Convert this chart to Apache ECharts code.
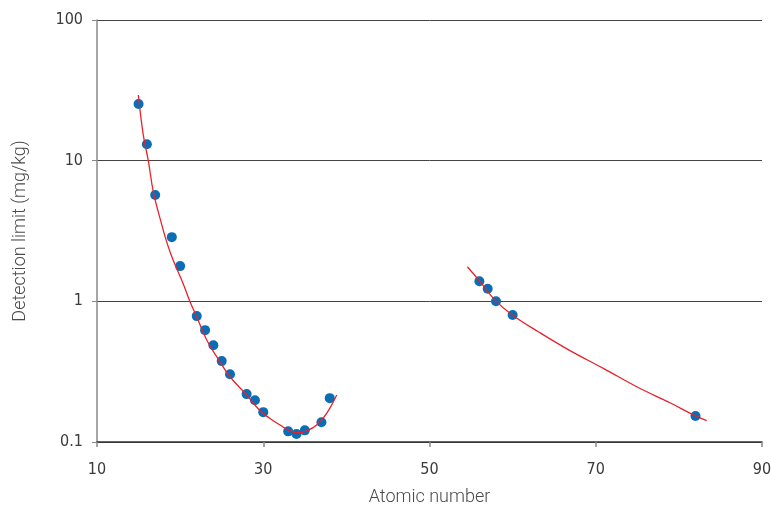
<!DOCTYPE html>
<html>
<head>
<meta charset="utf-8">
<script src="https://cdn.jsdelivr.net/npm/echarts@6/dist/echarts.min.js"></script>
<style>html,body{margin:0;padding:0;background:#fff}#c{width:771px;height:509px}</style>
</head>
<body>
<div id="c"></div>
<script>
// Measured points (atomic number, detection limit mg/kg)
const lightZ = [15, 16, 17, 19, 20, 22, 23, 24, 25, 26, 28, 29, 30, 33, 34, 35, 37, 38];
const lightDL = [25.3, 13.1, 5.7, 2.86, 1.78, 0.785, 0.624, 0.488, 0.376, 0.303, 0.219, 0.198, 0.163, 0.119, 0.114, 0.121, 0.138, 0.205];
const heavyZ = [56, 57, 58, 60, 82];
const heavyDL = [1.39, 1.23, 1.0, 0.80, 0.153];

// Fitted curves
const fitLeftZ = [14.97, 15.57, 16.17, 16.77, 17.58, 18.78, 20.38, 21.19, 21.99, 23.2, 24.4, 26.0, 28.01, 29.61, 30.81, 32.02, 33.22, 34.22, 35.23, 36.43, 37.63, 38.84];
const fitLeftDL = [29.3, 15.2, 10.0, 6.02, 3.89, 2.25, 1.33, 0.994, 0.778, 0.531, 0.404, 0.291, 0.216, 0.167, 0.147, 0.132, 0.120, 0.1165, 0.120, 0.132, 0.160, 0.216];
const fitRightZ = [54.55, 56.08, 57.88, 59.96, 63.09, 66.9, 70.91, 74.93, 78.93, 81.94, 83.35];
const fitRightDL = [1.76, 1.38, 1.02, 0.80, 0.608, 0.446, 0.334, 0.247, 0.190, 0.154, 0.142];

const xTicks = [10, 30, 50, 70, 90];
const yTicks = [0.1, 1, 10, 100];

const zip = (a, b) => a.map((v, i) => [v, b[i]]);
const labelFont = "'Liberation Sans Narrow','DejaVu Sans Condensed',sans-serif";
const nameStyle = {fontFamily: 'Roboto, sans-serif', fontWeight: 300, fontSize: 18, color: '#4a4a4a'};

const chart = echarts.init(document.getElementById('c'), null, {renderer: 'canvas'});
chart.setOption({
  animation: false,
  backgroundColor: '#fff',
  grid: {left: 97, right: 9, top: 20, bottom: 67, outerBoundsMode: 'none', containLabel: false},
  xAxis: {
    type: 'value', min: xTicks[0], max: xTicks[xTicks.length - 1], interval: 20,
    name: 'Atomic number', nameLocation: 'middle', nameGap: 46,
    nameTextStyle: nameStyle,
    axisLine: {onZero: false, lineStyle: {color: '#333', width: 1.5}},
    axisTick: {show: true, length: 5, lineStyle: {color: '#888', width: 1.5}},
    axisLabel: {fontFamily: labelFont, fontSize: 16, color: '#3a3a3a', margin: 20},
    splitLine: {show: false}
  },
  yAxis: {
    type: 'log', logBase: 10, min: yTicks[0], max: yTicks[yTicks.length - 1],
    name: 'Detection limit (mg/kg)', nameLocation: 'middle', nameGap: 68,
    nameTextStyle: nameStyle,
    axisLine: {show: true, lineStyle: {color: '#888', width: 1.5}},
    axisTick: {show: true, length: 5, lineStyle: {color: '#888'}},
    minorTick: {show: false},
    axisLabel: {fontFamily: labelFont, fontSize: 16, color: '#3a3a3a', margin: 14,
      formatter: v => String(+v.toPrecision(3))},
    splitLine: {show: true, lineStyle: {color: '#444', width: 1}}
  },
  series: [
    {type: 'scatter', data: zip(lightZ, lightDL), symbolSize: 10,
     itemStyle: {color: '#0a6db5', opacity: 1}, z: 1},
    {type: 'scatter', data: zip(heavyZ, heavyDL), symbolSize: 10,
     itemStyle: {color: '#0a6db5', opacity: 1}, z: 1},
    {type: 'line', data: zip(fitLeftZ, fitLeftDL), smooth: 0.4, showSymbol: false,
     lineStyle: {color: '#e8222b', width: 1.3}, z: 3},
    {type: 'line', data: zip(fitRightZ, fitRightDL), smooth: 0.4, showSymbol: false,
     lineStyle: {color: '#e8222b', width: 1.3}, z: 3}
  ]
});
</script>
</body>
</html>
